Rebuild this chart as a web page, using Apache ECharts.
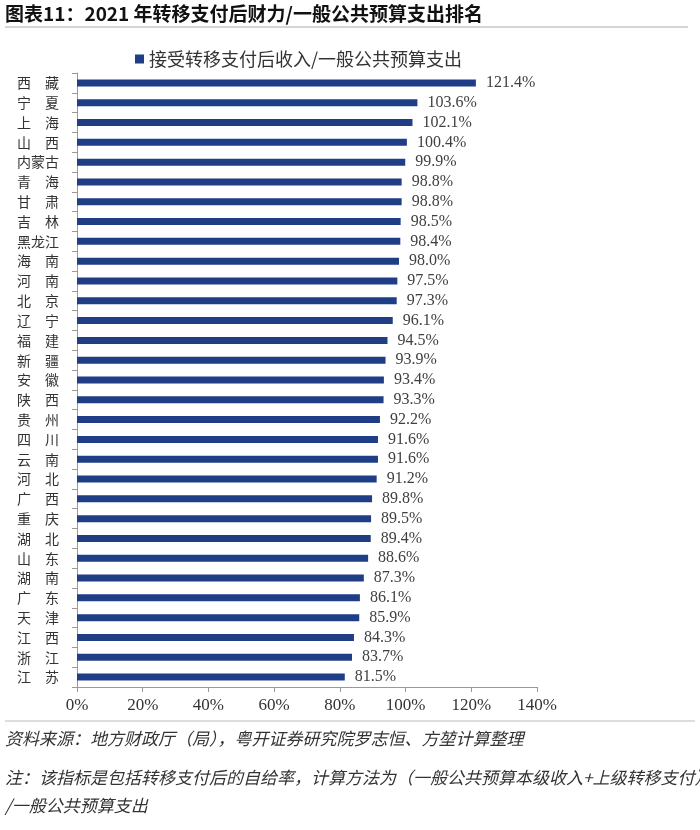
<!DOCTYPE html>
<html>
<head>
<meta charset="utf-8">
<script src="https://cdn.jsdelivr.net/npm/echarts@6/dist/echarts.min.js"></script>
<style>
html,body{margin:0;padding:0;background:#fff;}
#main{width:700px;height:830px;}
</style>
</head>
<body>
<div id="main"></div>
<script>
const categories = ["西藏","宁夏","上海","山西","内蒙古","青海","甘肃","吉林","黑龙江","海南","河南","北京","辽宁","福建","新疆","安徽","陕西","贵州","四川","云南","河北","广西","重庆","湖北","山东","湖南","广东","天津","江西","浙江","江苏"];
const values = [121.4,103.6,102.1,100.4,99.9,98.8,98.8,98.5,98.4,98.0,97.5,97.3,96.1,94.5,93.9,93.4,93.3,92.2,91.6,91.6,91.2,89.8,89.5,89.4,88.6,87.3,86.1,85.9,84.3,83.7,81.5];
const seriesName = "接受转移支付后收入/一般公共预算支出";
const titleText = "图表11：2021 年转移支付后财力/一般公共预算支出排名";
const sourceText = "资料来源：地方财政厅（局），粤开证券研究院罗志恒、方堃计算整理";
const noteLine1 = "注：该指标是包括转移支付后的自给率，计算方法为（一般公共预算本级收入+上级转移支付）";
const noteLine2 = "/一般公共预算支出";

const CJK = '"Noto Sans CJK SC", sans-serif';
const SERIF = '"Liberation Serif", "Times New Roman", serif';
const chart = echarts.init(document.getElementById('main'), null, {renderer: 'canvas'});
chart.setOption({
  backgroundColor: '#fff',
  animation: false,
  legend: {
    data: [seriesName],
    top: 45,
    left: 130,
    itemWidth: 9,
    itemHeight: 9,
    itemGap: 5,
    icon: 'rect',
    textStyle: {fontFamily: CJK, fontSize: 18, color: '#333'}
  },
  grid: {left: 77, right: 163, top: 73, bottom: 143, containLabel: false},
  xAxis: {
    type: 'value',
    min: 0, max: 140, interval: 20,
    axisLine: {show: true, lineStyle: {color: '#999'}},
    axisTick: {show: true, length: 5, lineStyle: {color: '#999'}},
    splitLine: {show: false},
    axisLabel: {formatter: '{value}%', fontFamily: SERIF, fontSize: 17, color: '#333', margin: 10}
  },
  yAxis: {
    type: 'category',
    data: categories,
    inverse: true,
    axisLine: {show: true, lineStyle: {color: '#999'}},
    axisTick: {show: true, length: 5, lineStyle: {color: '#999'}},
    axisLabel: {
      fontFamily: CJK, fontSize: 14, color: '#333', margin: 18,
      formatter: function (v) { return v.length === 2 ? v[0] + '\u3000' + v[1] : v; }
    }
  },
  series: [{
    name: seriesName,
    type: 'bar',
    data: values,
    barWidth: 7,
    itemStyle: {color: '#1f3e86'},
    label: {
      show: true, position: 'right', distance: 10,
      fontFamily: SERIF, fontSize: 16, color: '#404040',
      formatter: function (p) { return p.value.toFixed(1) + '%'; }
    }
  }],
  graphic: [
    {type: 'text', left: 5, top: 4, style: {text: titleText, font: 'bold 19px ' + CJK, fill: '#111'}},
    {type: 'line', shape: {x1: 5, y1: 27, x2: 688, y2: 27}, style: {stroke: '#aaa', lineWidth: 1}},
    {type: 'line', shape: {x1: 5, y1: 721, x2: 695, y2: 721}, style: {stroke: '#bbb', lineWidth: 1}},
    {type: 'text', left: 5, top: 730, style: {text: sourceText, font: 'italic 17px ' + CJK, fill: '#333'}},
    {type: 'text', left: 5, top: 769, style: {text: noteLine1, font: 'italic 17px ' + CJK, fill: '#333'}},
    {type: 'text', left: 5, top: 797, style: {text: noteLine2, font: 'italic 17px ' + CJK, fill: '#333'}}
  ]
});
</script>
</body>
</html>
